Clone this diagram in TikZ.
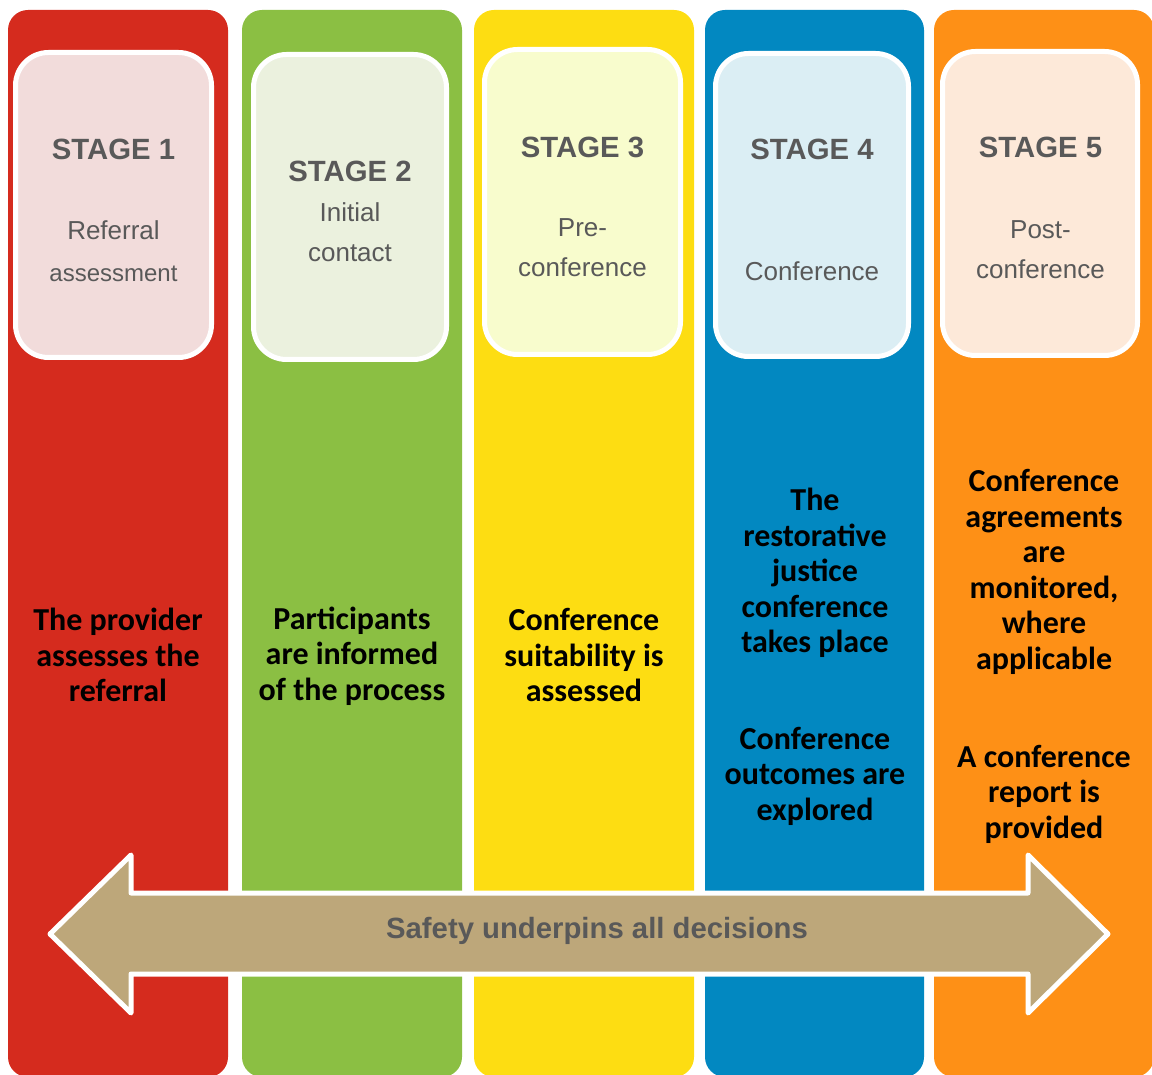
\documentclass[tikz,border=0pt]{standalone}
\usepackage{fontspec}
\setmainfont{Liberation Sans}
\newfontfamily\bodyfont{Carlito}
\usetikzlibrary{positioning}

\definecolor{redstage}{RGB}{213,43,30}
\definecolor{greenstage}{RGB}{139,191,67}
\definecolor{yellowstage}{RGB}{253,221,18}
\definecolor{bluestage}{RGB}{2,136,193}
\definecolor{orangestage}{RGB}{254,144,22}
\definecolor{redpale}{RGB}{242,220,219}
\definecolor{greenpale}{RGB}{235,241,222}
\definecolor{yellowpale}{RGB}{248,252,205}
\definecolor{bluepale}{RGB}{219,238,244}
\definecolor{orangepale}{RGB}{253,233,217}
\definecolor{safetytan}{RGB}{189,167,122}
\definecolor{labelgrey}{RGB}{89,89,89}

\def\firstcolumn{(8,10) rectangle (228,1077)}
\def\secondcolumn{(242,10) rectangle (462,1077)}
\def\thirdcolumn{(474,10) rectangle (694,1077)}
\def\fourthcolumn{(705,10) rectangle (924,1077)}
\def\fifthcolumn{(934,10) rectangle (1154,1077)}

\def\firstbox{(15.5,52.5) rectangle (211.5,357.5)}
\def\secondbox{(253.5,54.5) rectangle (446.5,359.5)}
\def\thirdbox{(484.5,49.5) rectangle (680.5,354.5)}
\def\fourthbox{(715.5,53.5) rectangle (908.5,356.5)}
\def\fifthbox{(942.5,51.5) rectangle (1137.5,355.5)}

\def\safetyarrow{(50,934) -- (131,855) -- (131,893) -- (1028,893) -- (1028,855) -- (1108,934)
  -- (1028,1013) -- (1028,974) -- (131,974) -- (131,1013) -- cycle}

\tikzset{
  stagetitle/.style={text=labelgrey, font=\bfseries\fontsize{29.3}{34}\selectfont},
  stagename/.style={text=labelgrey, align=center, font=\fontsize{26}{40}\selectfont},
  stagetask/.style={align=center, font=\bodyfont\bfseries\fontsize{32}{35.5}\selectfont}
}

\begin{document}
\begin{tikzpicture}[x=1pt, y=-1pt]
\useasboundingbox (0,0) rectangle (1152,1075);

% coloured columns
\begin{scope}[rounded corners=20]
  \fill[redstage] \firstcolumn;
  \fill[greenstage] \secondcolumn;
  \fill[yellowstage] \thirdcolumn;
  \fill[bluestage] \fourthcolumn;
  \fill[orangestage] \fifthcolumn;
\end{scope}

% stage cards
\begin{scope}[draw=white, line width=5pt, rounded corners=33]
  \filldraw[fill=redpale] \firstbox;
  \filldraw[fill=greenpale] \secondbox;
  \filldraw[fill=yellowpale] \thirdbox;
  \filldraw[fill=bluepale] \fourthbox;
  \filldraw[fill=orangepale] \fifthbox;
\end{scope}

\node[stagetitle] (title1) at (113.5,149) {STAGE 1};
\node[stagetitle] (title2) at (350,171) {STAGE 2};
\node[stagetitle] (title3) at (582.5,147) {STAGE 3};
\node[stagetitle] (title4) at (812,149) {STAGE 4};
\node[stagetitle] (title5) at (1040.5,147) {STAGE 5};

\node[stagename] (name1) at (113.5,251) {Referral\\[2pt]{\fontsize{24}{40}\selectfont assessment}};
\node[stagename] (name2) at (350,232) {Initial\\contact};
\node[stagename] (name3) at (582.5,248) {Pre-\\conference};
\node[stagename] (name4) at (812,271) {Conference};
\node[stagename] (name5) at (1040.5,250) {Post-\\conference};

% what happens at each stage
\node[stagetask] (task1) at (118,655) {The provider\\assesses the\\referral};
\node[stagetask] (task2) at (352,656) {Participants\\are informed\\of the process};
\node[stagetask] (task3) at (584,655) {Conference\\suitability is\\assessed};
\node[stagetask] (task4) at (815,573) {The\\restorative\\justice\\conference\\takes place};
\node[stagetask] (outcome4) at (815,776) {Conference\\outcomes are\\explored};
\node[stagetask] (task5) at (1044,572) {Conference\\agreements\\are\\monitored,\\where\\applicable};
\node[stagetask] (report5) at (1044,794) {A conference\\report is\\provided};

% the double arrow along the bottom
\filldraw[fill=safetytan, draw=white, line width=5pt, line join=round] \safetyarrow;
\node[text=labelgrey, font=\bfseries\fontsize{29.3}{34}\selectfont] (safety) at (597,931) {Safety underpins all decisions};
\end{tikzpicture}
\end{document}
